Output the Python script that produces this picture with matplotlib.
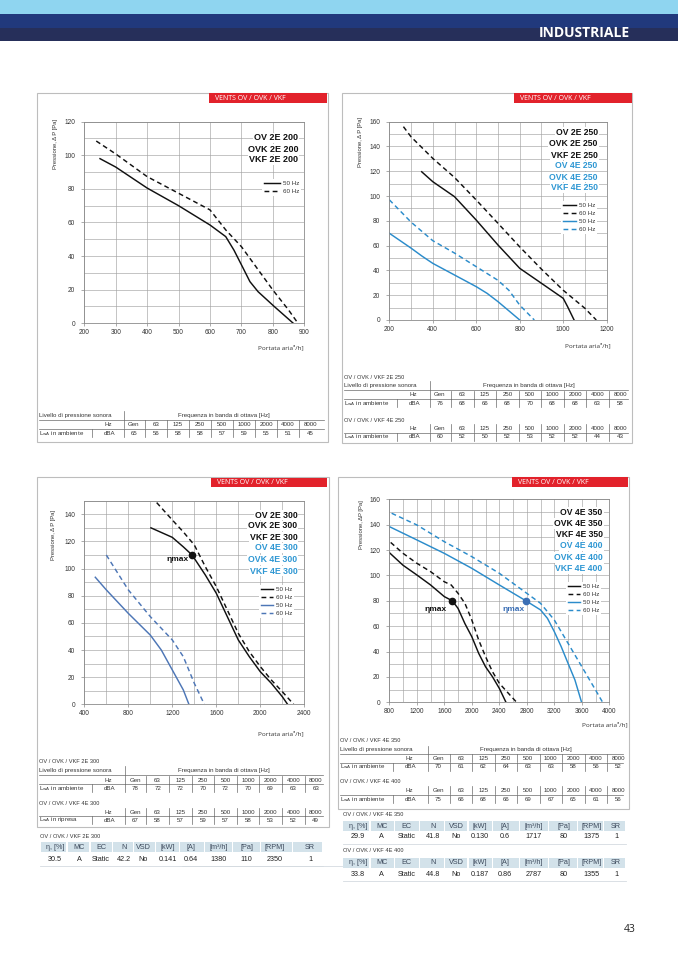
import matplotlib
matplotlib.use('Agg')
import matplotlib.pyplot as plt
from matplotlib.patches import Rectangle
from matplotlib.ticker import MultipleLocator

plt.rcParams['font.family'] = ['Liberation Sans', 'DejaVu Sans']

W, H = 678, 959
BLACK = '#111111'
BLUE = '#2b8ccb'
BLUE_TXT = '#2e97d3'
STEEL = '#4d76b6'
RED = '#e2222b'
TXT = '#333333'

# ---------------- data ----------------
# Chart 1: OV / OVK / VKF 2E 200
c1_q50 = [250, 300, 400, 500, 600, 650, 676, 703, 727, 753, 805, 865]
c1_p50 = [98, 93, 80.5, 70, 58.5, 51.6, 43.6, 33.7, 24.8, 18.8, 9.9, 0]
c1_q60 = [238, 300, 400, 500, 600, 650, 700, 750, 800, 850, 880]
c1_p60 = [108.5, 100.8, 87.3, 77.4, 67.5, 55.6, 45.6, 32.7, 19.8, 7.9, 0]
c1_models = ['OV 2E 200', 'OVK 2E 200', 'VKF 2E 200']

# Chart 2: 2E 250 / 4E 250
c2_q2e50 = [349, 400, 500, 600, 700, 800, 900, 1000, 1020, 1050]
c2_p2e50 = [119.6, 111.6, 99.5, 80.6, 60.5, 41.7, 29.6, 17.5, 10.8, 0]
c2_q2e60 = [265, 300, 400, 500, 600, 700, 800, 900, 1000, 1100, 1152]
c2_p2e60 = [156, 147.8, 130.4, 115, 96.8, 78, 59, 41, 24, 9.4, 0]
c2_q4e50 = [200, 300, 350, 400, 500, 600, 650, 700, 800]
c2_p4e50 = [70, 58, 51.6, 45.7, 36.3, 26.9, 21.5, 14.8, 0]
c2_q4e60 = [200, 300, 400, 500, 600, 700, 750, 800, 867]
c2_p4e60 = [97, 79, 64, 54, 43, 32, 24, 12, 0]
c2_models = ['OV 2E 250', 'OVK 2E 250', 'VKF 2E 250', 'OV 4E 250', 'OVK 4E 250', 'VKF 4E 250']

# Chart 3: 2E 300 / 4E 300
c3_q2e50 = [1006, 1200, 1300, 1380, 1500, 1600, 1700, 1800, 1900, 2000, 2100, 2200, 2248]
c3_p2e50 = [130, 123, 116, 110, 95.3, 81.8, 64.6, 47.4, 35.1, 24, 15.5, 5.6, 0]
c3_q2e60 = [1058, 1200, 1300, 1400, 1500, 1600, 1700, 1800, 1900, 2000, 2100, 2200, 2303]
c3_p2e60 = [148.6, 135.8, 127, 117.4, 101.4, 86.7, 69.5, 52.3, 38.8, 27.8, 17.9, 9.3, 0]
c3_q4e50 = [500, 600, 800, 1000, 1100, 1200, 1300, 1351]
c3_p4e50 = [93.6, 84.3, 67, 51, 40, 25.3, 10.6, 0]
c3_q4e60 = [600, 800, 1000, 1100, 1200, 1300, 1400, 1491]
c3_p4e60 = [110, 84.3, 64.6, 56, 47.4, 35.1, 15.5, 0]
c3_eta = (1380, 110)
c3_models = ['OV 2E 300', 'OVK 2E 300', 'VKF 2E 300', 'OV 4E 300', 'OVK 4E 300', 'VKF 4E 300']

# Chart 4: 4E 350 / 4E 400
c4_q350_50 = [800, 1000, 1200, 1400, 1600, 1717, 1800, 1900, 2000, 2100, 2200, 2300, 2400, 2497]
c4_p350_50 = [118, 108, 100.4, 92.5, 83.3, 80, 74, 62, 51.7, 38.6, 28, 20.2, 11, 0]
c4_q350_60 = [820, 1000, 1200, 1400, 1600, 1700, 1800, 1900, 2000, 2100, 2200, 2300, 2400, 2500, 2652]
c4_p350_60 = [126, 117.4, 109.6, 103, 95, 92.5, 85.9, 78, 64.9, 49.1, 36, 24.2, 15, 9, 0]
c4_q400_50 = [800, 1200, 1600, 2000, 2400, 2787, 3000, 3100, 3200, 3300, 3400, 3500, 3597]
c4_p400_50 = [138.5, 128, 117.4, 105.6, 92.5, 80, 72.8, 66.2, 55.7, 43.9, 30.7, 17.6, 0]
c4_q400_60 = [834, 1200, 1600, 2000, 2400, 2800, 3000, 3200, 3400, 3600, 3800, 3903]
c4_p400_60 = [149, 139.8, 126.6, 114.8, 101.7, 85.9, 78, 64.9, 46.5, 28.1, 9.7, 0]
c4_eta350 = (1717, 80)
c4_eta400 = (2787, 80)
c4_models = ['OV 4E 350', 'OVK 4E 350', 'VKF 4E 350', 'OV 4E 400', 'OVK 4E 400', 'VKF 4E 400']

freq_labels = ['Gen', '63', '125', '250', '500', '1000', '2000', '4000', '8000']
snd_2e200 = [65, 56, 58, 58, 57, 59, 55, 51, 45]
snd_2e250 = [76, 68, 66, 68, 70, 68, 68, 63, 58]
snd_4e250 = [60, 52, 50, 52, 53, 52, 52, 44, 43]
snd_2e300 = [78, 72, 72, 70, 72, 70, 69, 63, 63]
snd_4e300 = [67, 58, 57, 59, 57, 58, 53, 52, 49]
snd_4e350 = [70, 61, 62, 64, 63, 63, 58, 56, 52]
snd_4e400 = [75, 66, 68, 66, 69, 67, 65, 61, 56]

eff_headers = ['η, [%]', 'MC', 'EC', 'N', 'VSD', '[kW]', '[A]', '[m³/h]', '[Pa]', '[RPM]', 'SR']
eff_2e300 = ['30.5', 'A', 'Static', '42.2', 'No', '0.141', '0.64', '1380', '110', '2350', '1']
eff_4e350 = ['29.9', 'A', 'Static', '41.8', 'No', '0.130', '0.6', '1717', '80', '1375', '1']
eff_4e400 = ['33.8', 'A', 'Static', '44.8', 'No', '0.187', '0.86', '2787', '80', '1355', '1']

# ---------------- figure ----------------
fig = plt.figure(figsize=(W / 100, H / 100), dpi=100)
fig.patch.set_facecolor('white')


def px_axes(x0, y0, x1, y1):
    return fig.add_axes([x0 / W, 1 - y1 / H, (x1 - x0) / W, (y1 - y0) / H])


bg = px_axes(0, 0, W, H)
bg.set_xlim(0, W); bg.set_ylim(H, 0); bg.axis('off'); bg.set_zorder(0)
ov = px_axes(0, 0, W, H)
ov.set_xlim(0, W); ov.set_ylim(H, 0); ov.axis('off'); ov.set_zorder(10)

# header bands
bg.add_patch(Rectangle((0, 0), W, 13.5, color='#8fd5f0', lw=0))
bg.add_patch(Rectangle((0, 13.5), W, 14, color='#21397c', lw=0))
bg.add_patch(Rectangle((0, 27.5), W, 13.5, color='#262f5a', lw=0))
bg.text(584, 33, 'INDUSTRIALE', color='white', fontsize=10, weight='bold',
        family=['Open Sans', 'DejaVu Sans'], ha='center', va='center')
bg.text(630, 930, '43', color='#222', fontsize=7.5, family=['Open Sans', 'DejaVu Sans'],
        ha='center', va='center')

# panel boxes and red labels
for (x0, y0, x1, y1), (rx0, rx1, ry0, ry1) in [
        ((37, 93, 328, 442), (209, 327, 92.7, 102.7)),
        ((342, 93, 632, 443), (514, 632, 93, 103)),
        ((37, 477, 329, 827), (210.7, 327, 477.7, 486.7)),
        ((338, 477, 629, 809), (512, 628, 477, 486.7))]:
    bg.add_patch(Rectangle((x0, y0), x1 - x0, y1 - y0, fill=False, ec='#bdbdbd', lw=0.8))
    bg.add_patch(Rectangle((rx0, ry0), rx1 - rx0, ry1 - ry0, color=RED, lw=0, zorder=3))
    bg.text(rx0 + 6, (ry0 + ry1) / 2 + 0.3, 'VENTS OV / OVK / VKF', color='white', fontsize=5,
            family=['Open Sans', 'DejaVu Sans'], ha='left', va='center', zorder=4)


def chart(box, xlim, ylim, xstep, xgrid, ymax_tick, series, leg_x, leg_top, hlen_px, fs_leg,
          ylab_xy, ylab, xlab_xy):
    ax = px_axes(*box)
    ax.set_zorder(2)
    ax.set_xlim(*xlim); ax.set_ylim(*ylim)
    ax.xaxis.set_major_locator(MultipleLocator(xstep))
    ax.xaxis.set_minor_locator(MultipleLocator(xgrid))
    ax.set_yticks(range(0, ymax_tick + 1, 20))
    ax.yaxis.set_minor_locator(MultipleLocator(10))
    ax.grid(which='both', color='#a3a3a3', lw=0.45)
    ax.set_axisbelow(True)
    for s in ax.spines.values():
        s.set_color('#8a8a8a'); s.set_linewidth(0.6)
    ax.tick_params(which='major', length=2.5, width=0.5, color='#8a8a8a', labelsize=4.7,
                   labelcolor=TXT)
    ax.tick_params(which='minor', length=0)
    ax.tick_params(axis='y', pad=4.2)
    ax.tick_params(axis='x', pad=1.5)
    handles = []
    for q, p, color, ls in series:
        if ls == '--':
            ln, = ax.plot(q, p, color=color, lw=1.05, ls=(0, (3.3, 2.3)))
        else:
            ln, = ax.plot(q, p, color=color, lw=1.05, ls='-')
        handles.append(ln)
    labels = ['50 Hz', '60 Hz'] * (len(handles) // 2)
    leg = ax.legend(handles, labels, loc='upper left',
                    bbox_to_anchor=(leg_x / W, 1 - leg_top / H), bbox_transform=fig.transFigure,
                    fontsize=fs_leg, handlelength=hlen_px / 1.389 / fs_leg, handletextpad=0.5,
                    labelspacing=0.42, borderpad=0.3, borderaxespad=0, frameon=True,
                    fancybox=False, facecolor='white', edgecolor='none', framealpha=1)
    for t in leg.get_texts():
        t.set_color(TXT)
    ov.text(ylab_xy[0], ylab_xy[1], ylab, rotation=90, fontsize=4.2, color=TXT,
            ha='center', va='center')
    ov.text(xlab_xy[0], xlab_xy[1], 'Portata aria³/h]', fontsize=4.6, color=TXT,
            family=['Open Sans', 'DejaVu Sans'], ha='center', va='center')
    return ax


def models(xr, ys, names, colors, fs):
    for y, n, c in zip(ys, names, colors):
        ov.text(xr, y, n, ha='right', va='center', fontsize=fs, weight='bold', color=c,
                bbox=dict(fc='white', ec='none', pad=0.6))


# Chart 1
ax1 = chart((84.3, 121.7, 304.3, 323.3), (200, 900), (0, 120), 100, 100, 120,
            [(c1_q50, c1_p50, BLACK, '-'), (c1_q60, c1_p60, BLACK, '--')],
            262, 178.5, 16, 4.5, (56, 144), 'Pressione, Δ P [Pa]', (281, 347))
models(298, [138, 149, 160], c1_models, [BLACK] * 3, 6.5)

# Chart 2
ax2 = chart((389.3, 121.7, 606.7, 320), (200, 1200), (0, 160), 200, 100, 160,
            [(c2_q2e50, c2_p2e50, BLACK, '-'), (c2_q2e60, c2_p2e60, BLACK, '--'),
             (c2_q4e50, c2_p4e50, BLUE, '-'), (c2_q4e60, c2_p4e60, BLUE, '--')],
            561, 200.5, 13, 4.5, (360.7, 142), 'Pressione, Δ P [Pa]', (587.5, 345))
models(597.7, [132.7, 143.7, 155, 166, 177, 188], c2_models, [BLACK] * 3 + [BLUE_TXT] * 3, 6.2)

# Chart 3
ax3 = chart((84.3, 500.7, 304.3, 704.3), (400, 2400), (0, 150), 400, 200, 140,
            [(c3_q2e50, c3_p2e50, BLACK, '-'), (c3_q2e60, c3_p2e60, BLACK, '--'),
             (c3_q4e50, c3_p4e50, STEEL, '-'), (c3_q4e60, c3_p4e60, STEEL, '--')],
            259, 585, 12, 4.5, (54, 535), 'Pressione, Δ P [Pa]', (281, 733))
models(297.3, [515, 526, 537, 548, 560, 571], c3_models, [BLACK] * 3 + [BLUE_TXT] * 3, 6.3)
ax3.plot([c3_eta[0]], [c3_eta[1]], 'o', color=BLACK, ms=4.5, zorder=5)
ax3.text(c3_eta[0] - 35, c3_eta[1] - 3, 'ηmax', ha='right', va='center', fontsize=6,
         weight='bold', color=BLACK)

# Chart 4
ax4 = chart((389.3, 499.3, 609.3, 702.3), (800, 4000), (0, 160), 400, 200, 160,
            [(c4_q350_50, c4_p350_50, BLACK, '-'), (c4_q350_60, c4_p350_60, BLACK, '--'),
             (c4_q400_50, c4_p400_50, BLUE, '-'), (c4_q400_60, c4_p400_60, BLUE, '--')],
            566, 581.5, 12, 4.5, (361.7, 525), 'Pressione, ΔP [Pa]', (604.5, 724))
models(602.7, [512.3, 523.3, 534.7, 546, 557.3, 568.7], c4_models, [BLACK] * 3 + [BLUE_TXT] * 3, 6.2)
ax4.plot([c4_eta350[0]], [c4_eta350[1]], 'o', color=BLACK, ms=4.5, zorder=5)
ax4.plot([c4_eta400[0]], [c4_eta400[1]], 'o', color='#3b6fb5', ms=4.5, zorder=5)
ax4.text(c4_eta350[0] - 85, c4_eta350[1] - 7, 'ηmax', ha='right', va='center', fontsize=6,
         weight='bold', color=BLACK)
ax4.text(c4_eta400[0] - 15, c4_eta400[1] - 7, 'ηmax', ha='right', va='center', fontsize=6,
         weight='bold', color='#3b6fb5')


# ---------------- tables ----------------
LC = '#6a6a6a'
FS_T = 4.4


def sound_block(x0, x1, gen_x, dx, y_hz, y_l, vals, row_label, title=None, y_title=None,
                header_y=None):
    fs = FS_T
    x_sep = gen_x - 10
    cols = [gen_x + dx * i for i in range(9)]
    if title:
        bg.text(x0 + 2, y_title, title, fontsize=4.1, color=TXT, ha='left', va='center')
    if header_y is not None:
        bg.text(x0 + 2, header_y, 'Livello di pressione sonora', fontsize=fs, color=TXT,
                ha='left', va='center')
        bg.text((x_sep + x1) / 2, header_y, 'Frequenza in banda di ottava [Hz]', fontsize=fs,
                color=TXT, ha='center', va='center')
        bg.plot([x_sep, x_sep], [header_y - 4.5, y_hz + 4], color=LC, lw=0.5)
        bg.plot([x0 + 2, x1], [(header_y + y_hz) / 2, (header_y + y_hz) / 2], color=LC, lw=0.5)
    else:
        bg.plot([x_sep, x_sep], [y_hz - 4, y_hz + 4], color=LC, lw=0.5)
    bg.plot([x0 + 2, x1], [(y_hz + y_l) / 2, (y_hz + y_l) / 2], color=LC, lw=0.5)
    bg.text(x0 + 71, y_hz, 'Hz', fontsize=fs, color=TXT, ha='center', va='center')
    bg.text(x0 + 2, y_l, r'L$_{\rm wA}$ ' + row_label, fontsize=fs, color=TXT, ha='left',
            va='center')
    bg.text(x0 + 73, y_l, 'dBA', fontsize=fs, color=TXT, ha='center', va='center')
    bg.plot([x0 + 55, x0 + 55], [y_l - 4, y_l + 4], color=LC, lw=0.5)
    bg.plot([x_sep, x_sep], [y_l - 4, y_l + 4], color=LC, lw=0.5)
    for i, (c, f, v) in enumerate(zip(cols, freq_labels, vals)):
        bg.text(c, y_hz, f, fontsize=fs, color=TXT, ha='center', va='center')
        bg.text(c, y_l, str(v), fontsize=fs, color=TXT, ha='center', va='center')
        if i < 8:
            sx = c + dx / 2
            bg.plot([sx, sx], [y_hz - 4, y_hz + 4], color=LC, lw=0.5)
            bg.plot([sx, sx], [y_l - 4, y_l + 4], color=LC, lw=0.5)


def eff_block(x0, x1, centers, y_title, y_head, y_val, title, vals):
    bg.text(x0, y_title, title, fontsize=4.1, color=TXT, ha='left', va='center')
    bounds = [x0] + [(centers[i] + centers[i + 1]) / 2 for i in range(len(centers) - 1)] + [x1]
    for i, (c, h, v) in enumerate(zip(centers, eff_headers, vals)):
        bg.add_patch(Rectangle((bounds[i] + 0.6, y_head - 4.8), bounds[i + 1] - bounds[i] - 1.2,
                               9.6, color='#d3e2ea', lw=0))
        bg.text(c, y_head, h, fontsize=5.2, color='#3d4a5c', ha='center', va='center')
        bg.text(c, y_val, v, fontsize=5.2, color='#222', ha='center', va='center')
    bg.plot([x0, x1], [y_val + 6.5, y_val + 6.5], color='#d5dbe0', lw=0.6)


# top-left
sound_block(37, 324, 134, 22, 424, 433.3, snd_2e200, 'in ambiente', header_y=415.3)
# top-right
sound_block(342, 628, 440, 22.5, 394.5, 403.3, snd_2e250, 'in ambiente',
            title='OV / OVK / VKF 2E 250', y_title=377.7, header_y=385.5)
sound_block(342, 628, 440, 22.5, 428.3, 436.7, snd_4e250, 'in ambiente',
            title='OV / OVK / VKF 4E 250', y_title=420)
# bottom-left
sound_block(37, 323, 135, 22.6, 780, 788.3, snd_2e300, 'in ambiente',
            title='OV / OVK / VKF 2E 300', y_title=761.7, header_y=770.7)
sound_block(37, 323, 135, 22.6, 812, 820, snd_4e300, 'in ripresa',
            title='OV / OVK / VKF 4E 300', y_title=803.3)
# bottom-right
sound_block(338, 623, 438.3, 22.5, 758.3, 766.7, snd_4e350, 'in ambiente',
            title='OV / OVK / VKF 4E 350', y_title=740, header_y=750)
sound_block(338, 623, 438.3, 22.5, 790, 799.3, snd_4e400, 'in ambiente',
            title='OV / OVK / VKF 4E 400', y_title=781.7)

left_cols = [55, 79, 101, 124.3, 143.3, 167.7, 190.7, 219, 246.7, 274.3, 310]
right_cols = [358.3, 381.7, 406.7, 432.7, 456, 480, 505, 533.3, 564, 591.7, 616]
eff_block(40, 323, left_cols, 836, 847.2, 859.3, 'OV / OVK / VKF 2E 300', eff_2e300)
eff_block(342.7, 626, right_cols, 814, 826, 837, 'OV / OVK / VKF 4E 350', eff_4e350)
eff_block(342.7, 626, right_cols, 851, 863, 874, 'OV / OVK / VKF 4E 400', eff_4e400)
bg.plot([182, 342], [865.8, 865.8], color='#d5dbe0', lw=0.6)

fig.savefig('out.png', dpi=100, facecolor='white')
